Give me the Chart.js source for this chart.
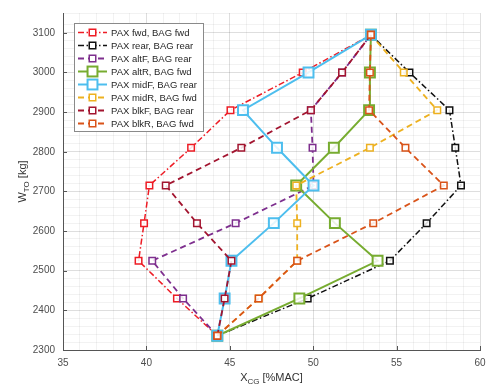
<!DOCTYPE html>
<html>
<head>
<meta charset="utf-8">
<script src="https://cdn.jsdelivr.net/npm/chart.js@4/dist/chart.umd.min.js"></script>
<style>
  html, body { margin: 0; padding: 0; background: #fff; }
  canvas { display: block; }
</style>
</head>
<body>
<canvas id="cgChart" width="489" height="385"></canvas>
<script>
// take-off weight steps [kg]
const weights = [2336, 2430, 2525, 2620, 2715, 2810, 2905, 3000, 3095];

// CG position [%MAC] for each loading sequence
const paxFwdBagFwd   = [44.25, 41.83, 39.53, 39.86, 40.18, 42.68, 45.04, 49.37, 53.46];
const paxRearBagRear = [44.25, 49.67, 54.60, 56.80, 58.86, 58.52, 58.17, 55.77, 53.46];
const paxAltFBagRear = [44.25, 42.20, 40.35, 45.35, 50.02, 49.96, 49.86, 51.73, 53.46];
const paxAltRBagFwd  = [44.25, 49.17, 53.86, 51.30, 48.98, 51.24, 53.35, 53.40, 53.46];
const paxMidFBagRear = [44.25, 44.69, 45.10, 47.64, 50.02, 47.83, 45.79, 49.72, 53.46];
const paxMidRBagFwd  = [44.25, 46.73, 49.04, 49.04, 48.98, 53.40, 57.44, 55.43, 53.46];
const paxBlkFBagRear = [44.25, 44.69, 45.10, 43.03, 41.16, 45.69, 49.86, 51.73, 53.46];
const paxBlkRBagFwd  = [44.25, 46.73, 49.04, 53.60, 57.83, 55.53, 53.35, 53.40, 53.46];

const seriesNames = [
    "PAX fwd, BAG fwd", "PAX rear, BAG rear", "PAX altF, BAG rear", "PAX altR, BAG fwd",
    "PAX midF, BAG rear", "PAX midR, BAG fwd", "PAX blkF, BAG rear", "PAX blkR, BAG fwd"
];
const seriesValues = [
    paxFwdBagFwd, paxRearBagRear, paxAltFBagRear, paxAltRBagFwd,
    paxMidFBagRear, paxMidRBagFwd, paxBlkFBagRear, paxBlkRBagFwd
];

const xTicks = [35, 40, 45, 50, 55, 60];
const yTicks = [2300, 2400, 2500, 2600, 2700, 2800, 2900, 3000, 3100];

// line look per series
const dashDot = [6, 2.5, 1.5, 2.5];
const dashed = [6, 4];
const styles = [
    { color: "#ee1c25", dash: dashDot, width: 1.5, r: 4.6, bw: 1.5 },
    { color: "#111111", dash: dashDot, width: 1.5, r: 4.6, bw: 1.5 },
    { color: "#7e2f8e", dash: dashed,  width: 1.8, r: 4.6, bw: 1.5 },
    { color: "#77ac30", dash: [],      width: 2,   r: 7,   bw: 2 },
    { color: "#4dbeee", dash: [],      width: 2,   r: 7,   bw: 2 },
    { color: "#edb120", dash: dashed,  width: 1.8, r: 4.6, bw: 1.5 },
    { color: "#a2142f", dash: dashed,  width: 1.8, r: 4.6, bw: 1.5 },
    { color: "#d95319", dash: dashed,  width: 1.8, r: 4.6, bw: 1.5 }
];

const datasets = seriesNames.map((name, i) => ({
    label: name,
    data: seriesValues[i].map((x, k) => ({ x: x, y: weights[k] })),
    showLine: true,
    borderColor: styles[i].color,
    borderWidth: styles[i].width,
    borderDash: styles[i].dash,
    pointStyle: "rect",
    pointRadius: styles[i].r,
    pointBorderWidth: styles[i].bw,
    pointBorderColor: styles[i].color,
    pointBackgroundColor: "rgba(255,255,255,0.85)",
    order: seriesNames.length - i
}));

const tickFont = { family: "'Liberation Sans', Arial, sans-serif", size: 10 };
const majorGrid = "rgba(0,0,0,0.13)";
const minorGrid = "rgba(0,0,0,0.05)";

// axis titles with subscripts, inward tick marks and a boxed legend inside the plot
const decorations = {
    id: "decorations",
    afterDraw(chart) {
        const ctx = chart.ctx;
        const area = chart.chartArea;
        const xs = chart.scales.x, ys = chart.scales.y;
        ctx.save();

        ctx.strokeStyle = "#555";
        ctx.lineWidth = 1;
        xTicks.forEach(v => {
            const px = Math.round(xs.getPixelForValue(v)) + 0.5;
            ctx.beginPath(); ctx.moveTo(px, area.bottom); ctx.lineTo(px, area.bottom - 4); ctx.stroke();
        });
        yTicks.forEach(v => {
            const py = Math.round(ys.getPixelForValue(v)) + 0.5;
            ctx.beginPath(); ctx.moveTo(area.left, py); ctx.lineTo(area.left + 4, py); ctx.stroke();
        });

        // x title: X_CG [%MAC]
        ctx.fillStyle = "#333";
        ctx.textBaseline = "alphabetic";
        const big = "11px 'Liberation Sans', Arial, sans-serif";
        const small = "8px 'Liberation Sans', Arial, sans-serif";
        ctx.font = big;
        const wX = ctx.measureText("X").width, wRest = ctx.measureText(" [%MAC]").width;
        ctx.font = small;
        const wSub = ctx.measureText("CG").width;
        let sx = (area.left + area.right) / 2 - (wX + wSub + wRest) / 2;
        const by = 381;
        ctx.font = big; ctx.textAlign = "left";
        ctx.fillText("X", sx, by);
        ctx.font = small; ctx.fillText("CG", sx + wX, by + 3);
        ctx.font = big; ctx.fillText(" [%MAC]", sx + wX + wSub, by);

        // y title: W_TO [kg]
        ctx.save();
        ctx.translate(26, (area.top + area.bottom) / 2);
        ctx.rotate(-Math.PI / 2);
        ctx.font = big;
        const wW = ctx.measureText("W").width, wKg = ctx.measureText(" [kg]").width;
        ctx.font = small;
        const wTO = ctx.measureText("TO").width;
        let ty = -(wW + wTO + wKg) / 2;
        ctx.font = big; ctx.fillText("W", ty, 0);
        ctx.font = small; ctx.fillText("TO", ty + wW, 3);
        ctx.font = big; ctx.fillText(" [kg]", ty + wW + wTO, 0);
        ctx.restore();

        // legend box
        const lx = 74, ly = 23, lw = 129, lh = 108, rowH = 13;
        ctx.fillStyle = "#fff";
        ctx.fillRect(lx, ly, lw, lh);
        ctx.strokeStyle = "#8a8a8a";
        ctx.lineWidth = 1;
        ctx.strokeRect(lx + 0.5, ly + 0.5, lw, lh);
        ctx.font = "9.5px 'Liberation Sans', Arial, sans-serif";
        ctx.textBaseline = "middle";
        chart.data.datasets.forEach((ds, i) => {
            const cy = ly + 9.5 + i * rowH;
            ctx.strokeStyle = ds.borderColor;
            ctx.lineWidth = ds.borderWidth;
            ctx.setLineDash(ds.borderDash);
            ctx.beginPath(); ctx.moveTo(lx + 4, cy); ctx.lineTo(lx + 33, cy); ctx.stroke();
            ctx.setLineDash([]);
            const s = ds.pointRadius * Math.SQRT1_2;
            ctx.fillStyle = "#fff";
            ctx.fillRect(lx + 18.5 - s, cy - s, 2 * s, 2 * s);
            ctx.lineWidth = ds.pointBorderWidth;
            ctx.strokeRect(lx + 18.5 - s, cy - s, 2 * s, 2 * s);
            ctx.fillStyle = "#262626";
            ctx.textAlign = "left";
            ctx.fillText(ds.label, lx + 37, cy + 0.5);
        });
        ctx.restore();
    }
};

new Chart(document.getElementById("cgChart"), {
    type: "scatter",
    data: { datasets: datasets },
    options: {
        responsive: false,
        animation: false,
        devicePixelRatio: 1,
        layout: { padding: { top: 13, right: 2, left: 0, bottom: 0 } },
        plugins: {
            legend: { display: false },
            tooltip: { enabled: false }
        },
        scales: {
            x: {
                type: "linear",
                min: 35,
                max: 60,
                ticks: {
                    stepSize: 1,
                    autoSkip: false,
                    maxRotation: 0,
                    padding: 7,
                    color: "#4d4d4d",
                    font: tickFont,
                    callback: v => (xTicks.includes(v) ? v : "")
                },
                grid: {
                    drawTicks: false,
                    color: c => (xTicks.includes(c.tick.value) ? majorGrid : minorGrid)
                },
                border: { display: true, color: "#555", width: 1 },
                afterFit: s => { s.height = 35; s.paddingLeft = 0; s.paddingRight = 0; }
            },
            y: {
                type: "linear",
                min: 2300,
                max: 3150,
                ticks: {
                    stepSize: 20,
                    autoSkip: false,
                    padding: 8,
                    color: "#4d4d4d",
                    font: tickFont,
                    callback: v => (yTicks.includes(v) ? v : "")
                },
                grid: {
                    drawTicks: false,
                    color: c => (yTicks.includes(c.tick.value) ? majorGrid : minorGrid)
                },
                border: { display: true, color: "#555", width: 1 },
                afterFit: s => { s.width = 63; s.paddingTop = 0; s.paddingBottom = 0; }
            }
        }
    },
    plugins: [decorations]
});
</script>
</body>
</html>
